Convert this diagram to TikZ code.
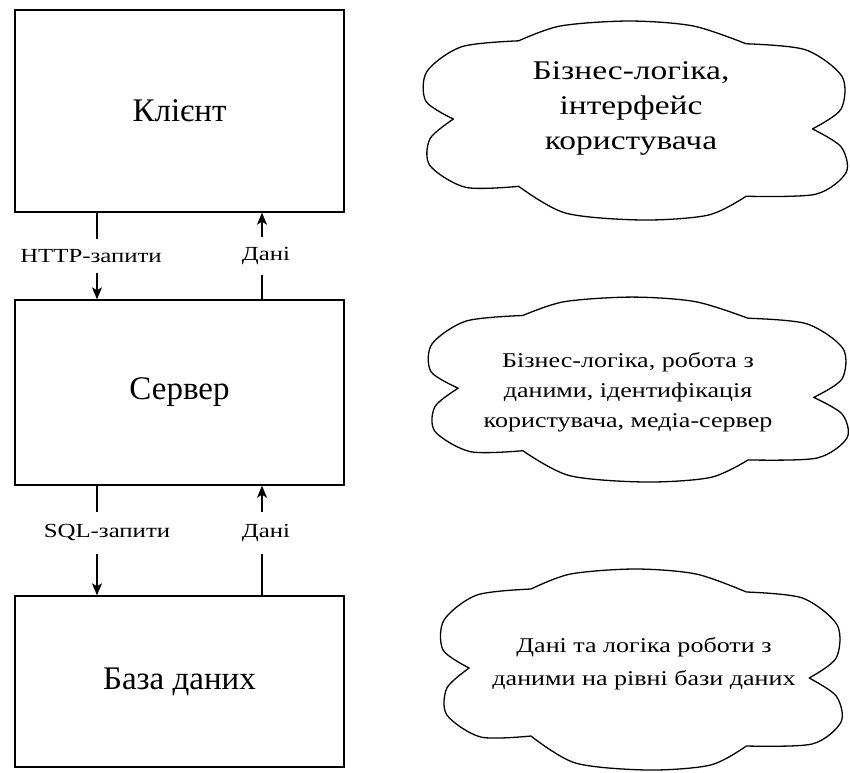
\documentclass[tikz,border=0pt]{standalone}
\usepackage{fontspec}
\setmainfont{Liberation Serif}
\newfontfamily\widefont[FakeStretch=1.24]{Liberation Serif}
\usetikzlibrary{positioning, arrows.meta, calc}
% six-puff cloud round (0,0), y pointing down
\newcommand{\cloudoutline}[1]{%
  \draw[puff, #1]
       plot[smooth] coordinates {(-116,-81) (-75,-96) (-8,-101) (55,-96) (107,-78)}
    -- plot[smooth] coordinates {(107,-78) (165,-72) (201,-45) (200,-12) (172,8)}
    -- plot[smooth] coordinates {(172,8) (200,26) (205,52) (175,74) (107,76)}
    -- plot[smooth] coordinates {(107,76) (70,95) (5,100) (-70,93) (-116,66)}
    -- plot[smooth] coordinates {(-116,66) (-168,67) (-203,45) (-203,18) (-180,-2)}
    -- plot[smooth] coordinates {(-180,-2) (-207,-20) (-206,-50) (-172,-75) (-116,-81)}
    -- cycle;}

\begin{document}
\begin{tikzpicture}[x=1pt, y=-1pt, >={Stealth[length=12pt, width=10pt, inset=3pt]},
  tier/.style={draw, line width=1.4pt, minimum width=329pt, inner sep=0pt,
               font=\fontsize{33}{38}\selectfont},
  puff/.style={draw, line width=1.3pt, line join=round},
  note/.style={align=center, inner sep=0pt},
  flow/.style={->, line width=1.2pt},
  lbl/.style={fill=white, inner xsep=1pt, inner ysep=10pt, font=\widefont\fontsize{20}{22}\selectfont}]
  \useasboundingbox (0,0) rectangle (850,772);
  % three tiers
  \node[tier, minimum height=202pt] (client) at (179.5,111) {Клієнт};
  \node[tier, minimum height=185pt] (server) at (179.5,392.5) {Сервер};
  \node[tier, minimum height=171pt] (db) at (179.5,681.5) {База даних};
  % what each tier does
  \cloudoutline{shift={(637,121)}, xscale=1.02, yscale=0.99}
  \cloudoutline{shift={(640,390)}, xscale=1.01, yscale=0.92}
  \cloudoutline{shift={(643,670)}, xscale=0.966, yscale=1}
  \node[note, font=\widefont\fontsize{27}{35}\selectfont] (n1) at (631,108)
    {Бізнес-логіка,\\ інтерфейс\\ користувача};
  \node[note, font=\widefont\fontsize{21}{30}\selectfont] (n2) at (628,392)
    {Бізнес-логіка, робота з\\ даними, ідентифікація\\ користувача, медіа-сервер};
  \node[note, font=\widefont\fontsize{21}{33}\selectfont] (n3) at (644,664)
    {Дані та логіка роботи з\\ даними на рівні бази даних};
  % requests and replies
  \draw[flow] ([xshift=-82.5pt]client.south) -- node[lbl, xshift=-6pt]{HTTP-запити}
    ([xshift=-82.5pt]server.north);
  \draw[flow] ([xshift=82.5pt]server.north) -- node[lbl, xshift=4pt]{Дані}
    ([xshift=82.5pt]client.south);
  \draw[flow] ([xshift=-82.5pt]server.south) -- node[lbl, pos=0.43, inner ysep=13pt, xshift=10pt]{SQL-запити}
    ([xshift=-82.5pt]db.north);
  \draw[flow] ([xshift=82.5pt]db.north) -- node[lbl, pos=0.57, inner ysep=12pt, xshift=4pt]{Дані}
    ([xshift=82.5pt]server.south);
\end{tikzpicture}
\end{document}
